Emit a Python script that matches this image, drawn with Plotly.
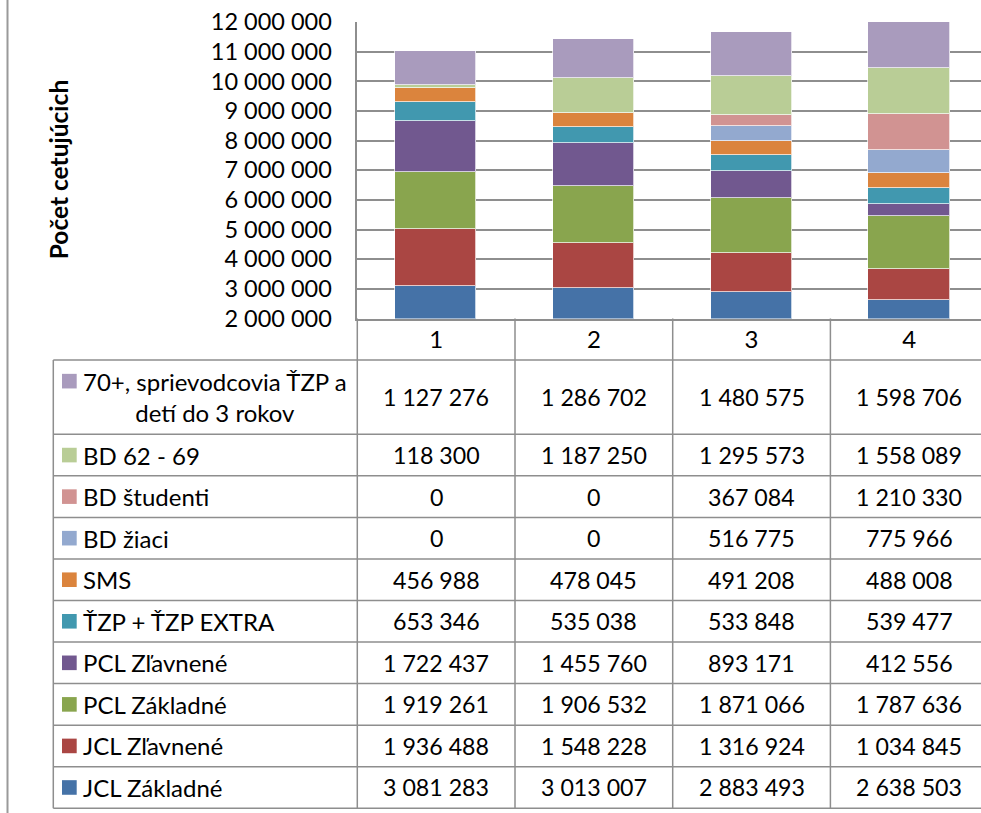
import plotly.graph_objects as go

# ---------------- data ----------------
CATEGORIES = ["1", "2", "3", "4"]

# table order (top to bottom)
SERIES_NAMES = [
    "70+, sprievodcovia ŤZP a<br>detí do 3 rokov",
    "BD 62 - 69",
    "BD študenti",
    "BD žiaci",
    "SMS",
    "ŤZP + ŤZP EXTRA",
    "PCL Zľavnené",
    "PCL Základné",
    "JCL Zľavnené",
    "JCL Základné",
]
v_70plus = [1127276, 1286702, 1480575, 1598706]
v_bd_62_69 = [118300, 1187250, 1295573, 1558089]
v_bd_studenti = [0, 0, 367084, 1210330]
v_bd_ziaci = [0, 0, 516775, 775966]
v_sms = [456988, 478045, 491208, 488008]
v_tzp = [653346, 535038, 533848, 539477]
v_pcl_zlavnene = [1722437, 1455760, 893171, 412556]
v_pcl_zakladne = [1919261, 1906532, 1871066, 1787636]
v_jcl_zlavnene = [1936488, 1548228, 1316924, 1034845]
v_jcl_zakladne = [3081283, 3013007, 2883493, 2638503]

SERIES_VALUES = [
    v_70plus, v_bd_62_69, v_bd_studenti, v_bd_ziaci, v_sms,
    v_tzp, v_pcl_zlavnene, v_pcl_zakladne, v_jcl_zlavnene, v_jcl_zakladne,
]
SERIES_COLORS = [
    "#A99BBD", "#B9CD96", "#D19392", "#93A9CF", "#DB843D",
    "#4198AF", "#71588F", "#89A54E", "#AA4643", "#4572A7",
]
Y_TICKS = [2000000, 3000000, 4000000, 5000000, 6000000, 7000000,
           8000000, 9000000, 10000000, 11000000, 12000000]
Y_TITLE = "Počet cetujúcich"

# ---------------- layout constants (page pixels) ----------------
W, H = 981, 813
FONT = "Lato, 'Open Sans', sans-serif"
FS = 24
PLOT_L, PLOT_T, PLOT_B = 357.3, 22.0, 318.5
CAT_W = 157.7
TABLE_L = 53.3
HEADER_B = 360.0
FIRST_ROW_B = 434.3
ROW_H = 41.55
LINE_C = "#8e8e8e"


def fx(p):
    return p / W


def fy(p):
    return 1 - p / H


xs = list(range(len(CATEGORIES)))

fig = go.Figure()
# stack from bottom (last table row) to top
for name, vals, col in reversed(list(zip(SERIES_NAMES, SERIES_VALUES, SERIES_COLORS))):
    fig.add_trace(go.Bar(
        x=xs, y=vals, name=name.replace("<br>", " "),
        marker=dict(color=col, line=dict(color="rgba(255,255,255,0.7)", width=1)),
        width=0.515, showlegend=False,
    ))

row_bounds = [HEADER_B, FIRST_ROW_B] + [FIRST_ROW_B + ROW_H * k for k in range(1, len(SERIES_NAMES))]
TABLE_B = row_bounds[-1]

shapes = []
# chart area left border
shapes.append(dict(type="line", xref="paper", yref="paper", x0=fx(7.5), x1=fx(7.5), y0=0, y1=1,
                   line=dict(color="#9a9a9a", width=2)))
# horizontal table lines
for yb in row_bounds:
    shapes.append(dict(type="line", xref="paper", yref="paper", x0=fx(TABLE_L), x1=1,
                       y0=fy(yb), y1=fy(yb), line=dict(color=LINE_C, width=1.5)))
# vertical table lines
shapes.append(dict(type="line", xref="paper", yref="paper", x0=fx(TABLE_L), x1=fx(TABLE_L),
                   y0=fy(HEADER_B), y1=fy(TABLE_B), line=dict(color=LINE_C, width=1.5)))
shapes.append(dict(type="line", xref="paper", yref="paper", x0=fx(PLOT_L), x1=fx(PLOT_L),
                   y0=fy(PLOT_B), y1=fy(TABLE_B), line=dict(color=LINE_C, width=1.5)))
for i in range(len(CATEGORIES)):
    shapes.append(dict(type="line", xref="x", yref="paper", x0=i + 0.5, x1=i + 0.5,
                       y0=fy(PLOT_B), y1=fy(TABLE_B), line=dict(color=LINE_C, width=1.5)))

annotations = []
# y-axis title
annotations.append(dict(text=f"<b>{Y_TITLE}</b>", xref="paper", yref="paper",
                        x=fx(58), y=fy((PLOT_T + PLOT_B) / 2), textangle=-90,
                        showarrow=False, font=dict(family=FONT, size=24.5, color="#000"),
                        xanchor="center", yanchor="middle"))


def fmt(v):
    return f"{v:,}".replace(",", " ")


for r, (name, vals, col) in enumerate(zip(SERIES_NAMES, SERIES_VALUES, SERIES_COLORS)):
    top, bot = row_bounds[r], row_bounds[r + 1]
    yc = (top + bot) / 2
    nlines = name.count("<br>") + 1
    first_line_c = yc - (nlines - 1) * 16
    # legend key square
    shapes.append(dict(type="rect", xref="paper", yref="paper", x0=fx(62), x1=fx(76.7),
                       y0=fy(first_line_c + 7.3), y1=fy(first_line_c - 7.3),
                       fillcolor=col, line=dict(width=0)))
    annotations.append(dict(text=name, xref="paper", yref="paper", x=fx(80.5), y=fy(yc),
                            xanchor="left", yanchor="middle", align="center", showarrow=False,
                            font=dict(family=FONT, size=FS, color="#000")))
    for i, v in enumerate(vals):
        annotations.append(dict(text=fmt(v), xref="x", yref="paper", x=xs[i], y=fy(yc),
                                xanchor="center", yanchor="middle", showarrow=False,
                                font=dict(family=FONT, size=23.2, color="#000")))

fig.update_layout(
    template="none",
    width=W, height=H,
    margin=dict(l=0, r=0, t=0, b=0, pad=0, autoexpand=False),
    paper_bgcolor="white", plot_bgcolor="white",
    barmode="stack", bargap=0,
    separators=", ",
    font=dict(family=FONT, size=FS, color="#000"),
    shapes=shapes, annotations=annotations,
    xaxis=dict(domain=[fx(PLOT_L), 1],
               range=[-0.5, -0.5 + (W - PLOT_L) / CAT_W],
               automargin=False,
               tickvals=xs, ticktext=CATEGORIES, showgrid=False, zeroline=False,
               showline=True, linecolor=LINE_C, linewidth=1.5,
               ticks="outside", ticklen=0, tickcolor="rgba(0,0,0,0)", ticklabelstandoff=-1,
               tickfont=dict(family=FONT, size=FS, color="#000")),
    yaxis=dict(domain=[fy(PLOT_B), fy(PLOT_T)], range=[Y_TICKS[0] - 1, Y_TICKS[-1] + 1],
               automargin=False,
               tickvals=Y_TICKS, tickformat=",d", showgrid=True, gridcolor=LINE_C, gridwidth=1.5,
               zeroline=False, showline=True, linecolor=LINE_C, linewidth=1.5,
               ticks="outside", ticklen=19, tickcolor="rgba(0,0,0,0)",
               tickfont=dict(family=FONT, size=23.5, color="#000")),
)

fig.write_html(
    "out.html",
    config={"displayModeBar": False},
    post_script="document.body.style.margin='0';document.body.style.overflow='hidden';",
)
